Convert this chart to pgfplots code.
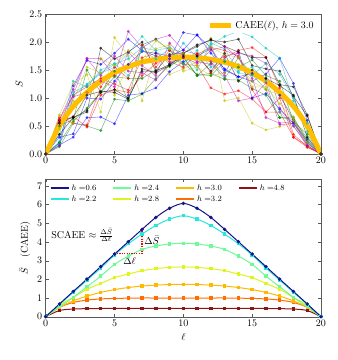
\documentclass[border=0pt]{standalone}
\usepackage{pgfplots}
\pgfplotsset{compat=1.18}
\usepackage{pgfplotstable}

\definecolor{mb}{rgb}{0,0,1}
\definecolor{mg}{rgb}{0,0.5,0}
\definecolor{mr}{rgb}{1,0,0}
\definecolor{mc}{rgb}{0,0.75,0.75}
\definecolor{mm}{rgb}{0.75,0,0.75}
\definecolor{my}{rgb}{0.75,0.75,0}
\definecolor{mk}{rgb}{0,0,0}
\definecolor{caee}{RGB}{255,190,0}
\definecolor{hA}{RGB}{20,20,140}
\definecolor{hB}{RGB}{40,230,220}
\definecolor{hC}{RGB}{110,250,150}
\definecolor{hD}{RGB}{220,245,30}
\definecolor{hE}{RGB}{255,185,0}
\definecolor{hF}{RGB}{255,110,0}
\definecolor{hG}{RGB}{140,20,20}
\definecolor{annot}{RGB}{255,0,0}

% random-sample curves, one column per sample
\pgfplotstableread{
l  s1   s2   s3   s4   s5   s6   s7   s8   s9   s10  s11  s12  s13  s14  s15  s16  s17  s18  s19  s20  s21
0  0    0    0    0    0    0    0    0    0    0    0    0    0    0    0    0    0    0    0    0    0
1  0.20 0.13 0.58 0.22 0.55 0.70 0.60 0.16 0.50 0.62 0.18 0.62 0.45 0.55 0.30 0.20 0.65 0.35 0.15 0.68 0.35
2  1.22 0.55 0.67 1.10 1.05 1.25 0.65 0.30 0.62 1.05 1.05 1.15 0.95 0.66 0.36 0.58 0.55 1.30 1.02 0.55 0.65
3  1.67 0.50 0.48 1.23 1.71 1.42 0.75 0.65 1.50 1.20 1.25 1.70 1.55 1.05 1.00 0.82 0.52 1.20 1.10 1.10 0.78
4  1.60 0.42 1.05 1.44 1.70 0.75 1.89 0.66 1.10 1.35 1.45 1.40 1.45 1.12 0.98 1.10 1.20 1.50 1.30 1.70 1.10
5  1.80 0.98 1.15 1.55 1.40 2.08 1.70 0.54 1.38 1.25 1.60 1.75 1.05 1.10 1.30 1.48 1.55 1.62 1.20 1.58 1.15
6  2.05 0.95 1.10 1.80 2.19 1.75 1.82 1.05 1.35 1.14 1.70 1.48 1.60 0.98 1.60 0.95 1.35 1.40 1.82 1.85 1.00
7  1.85 1.07 1.40 2.10 1.90 0.95 2.00 1.08 1.35 1.72 1.90 1.45 1.65 1.52 1.83 1.95 1.95 1.85 1.58 1.68 1.48
8  1.75 1.35 1.62 1.85 2.05 1.80 1.48 1.18 1.50 1.80 1.85 1.32 1.88 1.45 1.80 2.05 1.55 1.70 1.40 2.02 1.48
9  1.70 1.58 1.75 1.60 2.12 1.42 1.78 1.47 1.56 1.65 1.90 1.62 1.95 1.58 1.75 1.85 1.85 1.88 1.98 1.88 1.60
10 2.17 1.72 1.60 1.98 1.85 1.52 1.80 1.65 1.73 1.55 1.80 1.78 1.48 1.80 1.86 1.62 1.72 1.60 1.72 1.80 1.75
11 2.12 1.40 1.58 1.72 1.78 1.65 1.95 1.75 1.40 1.80 1.50 1.65 1.55 1.92 2.13 1.42 1.78 1.85 1.62 1.58 1.75
12 1.90 1.44 1.18 1.95 1.65 2.07 2.03 1.88 1.62 1.45 1.98 1.60 1.40 2.05 1.80 1.40 1.90 1.55 1.85 1.90 1.48
13 1.50 1.33 1.07 2.10 1.40 0.95 2.00 1.45 1.35 1.72 1.88 1.75 1.45 1.92 1.52 1.65 1.85 1.68 1.92 1.78 1.80
14 1.38 1.32 1.13 2.19 0.95 1.00 2.05 1.85 1.72 1.85 1.48 1.80 1.60 1.82 1.38 1.55 1.75 1.45 1.72 1.72 1.30
15 1.30 1.17 0.98 2.09 1.00 0.55 1.58 1.00 1.42 1.90 1.55 1.75 1.30 1.72 1.44 1.68 1.15 1.40 1.35 1.20 1.50
16 1.43 1.05 0.75 1.89 1.27 0.43 1.52 1.08 1.15 1.73 1.30 1.62 1.15 1.72 1.35 1.40 0.75 1.62 0.65 1.20 1.35
17 1.71 0.65 0.75 1.71 0.52 0.49 1.48 0.80 0.65 1.18 0.75 0.82 1.05 1.24 1.05 1.30 1.00 1.42 0.55 0.90 1.22
18 1.26 0.66 0.30 0.95 0.55 0.55 1.03 0.55 0.62 0.35 0.50 0.50 0.65 1.20 0.60 0.58 0.30 1.00 0.58 0.60 1.05
19 0.60 0.22 0.15 0.55 0.20 0.12 0.68 0.25 0.28 0.13 0.18 0.15 0.22 0.70 0.20 0.35 0.12 0.40 0.15 0.20 0.30
20 0    0    0    0    0    0    0    0    0    0    0    0    0    0    0    0    0    0    0    0    0
}\samples

% mean curves S(l) for several h
\pgfplotstableread{
l  hA   hB   hC   hD   hE   hF   hG
0  0    0    0    0    0    0    0
1  0.68 0.66 0.53 0.62 0.50 0.50 0.33
2  1.35 1.30 1.03 1.03 0.85 0.76 0.41
3  2.01 1.96 1.60 1.46 1.10 0.89 0.43
4  2.68 2.60 2.17 1.78 1.30 0.95 0.44
5  3.35 3.30 2.80 2.09 1.45 0.98 0.44
6  4.01 3.90 3.24 2.28 1.56 0.99 0.44
7  4.67 4.42 3.60 2.46 1.64 1.00 0.44
8  5.31 4.88 3.78 2.57 1.69 1.00 0.44
9  5.80 5.22 3.89 2.64 1.72 1.00 0.44
10 6.06 5.40 3.93 2.66 1.73 1.00 0.44
11 5.80 5.22 3.89 2.64 1.72 1.00 0.44
12 5.31 4.88 3.78 2.57 1.69 1.00 0.44
13 4.67 4.42 3.60 2.46 1.64 1.00 0.44
14 4.01 3.90 3.24 2.28 1.56 0.99 0.44
15 3.35 3.30 2.80 2.09 1.45 0.98 0.44
16 2.68 2.60 2.17 1.78 1.30 0.95 0.44
17 2.01 1.96 1.60 1.46 1.10 0.89 0.43
18 1.35 1.30 1.03 1.03 0.85 0.76 0.41
19 0.68 0.66 0.53 0.62 0.50 0.50 0.33
20 0    0    0    0    0    0    0
}\means

\pgfplotsset{
  myaxis/.style={
    scale only axis, width=275.3pt,
    xmin=0, xmax=20, xtick={0,5,10,15,20},
    axis line style={gray!70!black}, tick style={gray!70!black},
    major tick length=3pt,
  },
  smp/.style={#1, line width=0.5pt, opacity=0.55, mark=*, mark size=1.2pt, forget plot},
}

\begin{document}
\begin{tikzpicture}
\useasboundingbox (0pt,0pt) rectangle (338pt,360pt);

\begin{axis}[myaxis,
  at={(45.7pt,206pt)}, anchor=south west, height=140pt,
  ymin=0, ymax=2.5, ytick={0,0.5,...,2.5},
  yticklabel style={/pgf/number format/.cd,fixed,fixed zerofill,precision=1},
  ylabel={$S$},
  legend style={at={(0.985,0.97)}, anchor=north east, draw=none, fill=white,
    inner sep=1pt},
  legend image code/.code={\draw[#1, line width=5pt] (0pt,0pt) -- (21pt,0pt);},
]
\addplot[smp=mb] table[x=l, y=s1] {\samples};
\addplot[smp=mg] table[x=l, y=s2] {\samples};
\addplot[smp=mr] table[x=l, y=s3] {\samples};
\addplot[smp=mc] table[x=l, y=s4] {\samples};
\addplot[smp=mm] table[x=l, y=s5] {\samples};
\addplot[smp=my] table[x=l, y=s6] {\samples};
\addplot[smp=mk] table[x=l, y=s7] {\samples};
\addplot[smp=mb] table[x=l, y=s8] {\samples};
\addplot[smp=mg] table[x=l, y=s9] {\samples};
\addplot[smp=mr] table[x=l, y=s10] {\samples};
\addplot[smp=mc] table[x=l, y=s11] {\samples};
\addplot[smp=mm] table[x=l, y=s12] {\samples};
\addplot[smp=my] table[x=l, y=s13] {\samples};
\addplot[smp=mk] table[x=l, y=s14] {\samples};
\addplot[smp=mb] table[x=l, y=s15] {\samples};
\addplot[smp=mg] table[x=l, y=s16] {\samples};
\addplot[smp=mr] table[x=l, y=s17] {\samples};
\addplot[smp=mc] table[x=l, y=s18] {\samples};
\addplot[smp=mm] table[x=l, y=s19] {\samples};
\addplot[smp=my] table[x=l, y=s20] {\samples};
\addplot[smp=mk] table[x=l, y=s21] {\samples};
\addplot[caee, line width=5pt, smooth, mark=none] table[x=l, y=hE] {\means};
\addlegendentry{CAEE$(\ell)$, $h=3.0$}
\end{axis}

\begin{axis}[myaxis,
  at={(45.7pt,43.3pt)}, anchor=south west, height=137.4pt,
  ymin=0, ymax=7.35, ytick={0,1,...,7},
  xlabel={$\ell$}, ylabel={$\bar{S}$\quad(CAEE)},
  every axis plot/.append style={line width=1pt, mark size=1.2pt, forget plot},
  legend columns=4,
  legend style={at={(0.01,0.985)}, anchor=north west, draw=none, fill=none,
    font=\footnotesize, inner sep=1pt,
    /tikz/every even column/.append style={column sep=14pt}},
  legend cell align=left,
  legend image code/.code={\draw[#1, line width=2pt] (0pt,0pt) -- (18pt,0pt);},
]
\addplot[hG, smooth, mark=square*] table[x=l, y=hG] {\means};
\addplot[hF, smooth, mark=square*] table[x=l, y=hF] {\means};
\addplot[hE, smooth, mark=square*] table[x=l, y=hE] {\means};
\addplot[hD, smooth, mark=square*] table[x=l, y=hD] {\means};
\addplot[hC, smooth, mark=square*] table[x=l, y=hC] {\means};
\addplot[hB, smooth, mark=square*] table[x=l, y=hB] {\means};
\addplot[hA, smooth, mark=*] table[x=l, y=hA] {\means};

% slope annotation
\addplot[annot, mark=none, line width=1.2pt, dash pattern=on 1.2pt off 1.2pt]
  coordinates {(5,3.4) (7,3.4) (7,4.67)};

\addlegendimage{hA}\addlegendentry{$h=$0.6}
\addlegendimage{hC}\addlegendentry{$h=$2.4}
\addlegendimage{hE}\addlegendentry{$h=$3.0}
\addlegendimage{hG}\addlegendentry{$h=$4.8}
\addlegendimage{hB}\addlegendentry{$h=$2.2}
\addlegendimage{hD}\addlegendentry{$h=$2.8}
\addlegendimage{hF}\addlegendentry{$h=$3.2}

\node[anchor=west, inner sep=0pt] at (axis cs:0.4,4.35) {SCAEE $\approx\frac{\Delta\bar{S}}{\Delta\ell}$};
\node[anchor=west, inner sep=0pt] at (axis cs:7.15,4.1) {$\Delta\bar{S}$};
\node[anchor=north, inner sep=0pt] at (axis cs:6.1,3.2) {$\Delta\ell$};
\end{axis}
\end{tikzpicture}
\end{document}
